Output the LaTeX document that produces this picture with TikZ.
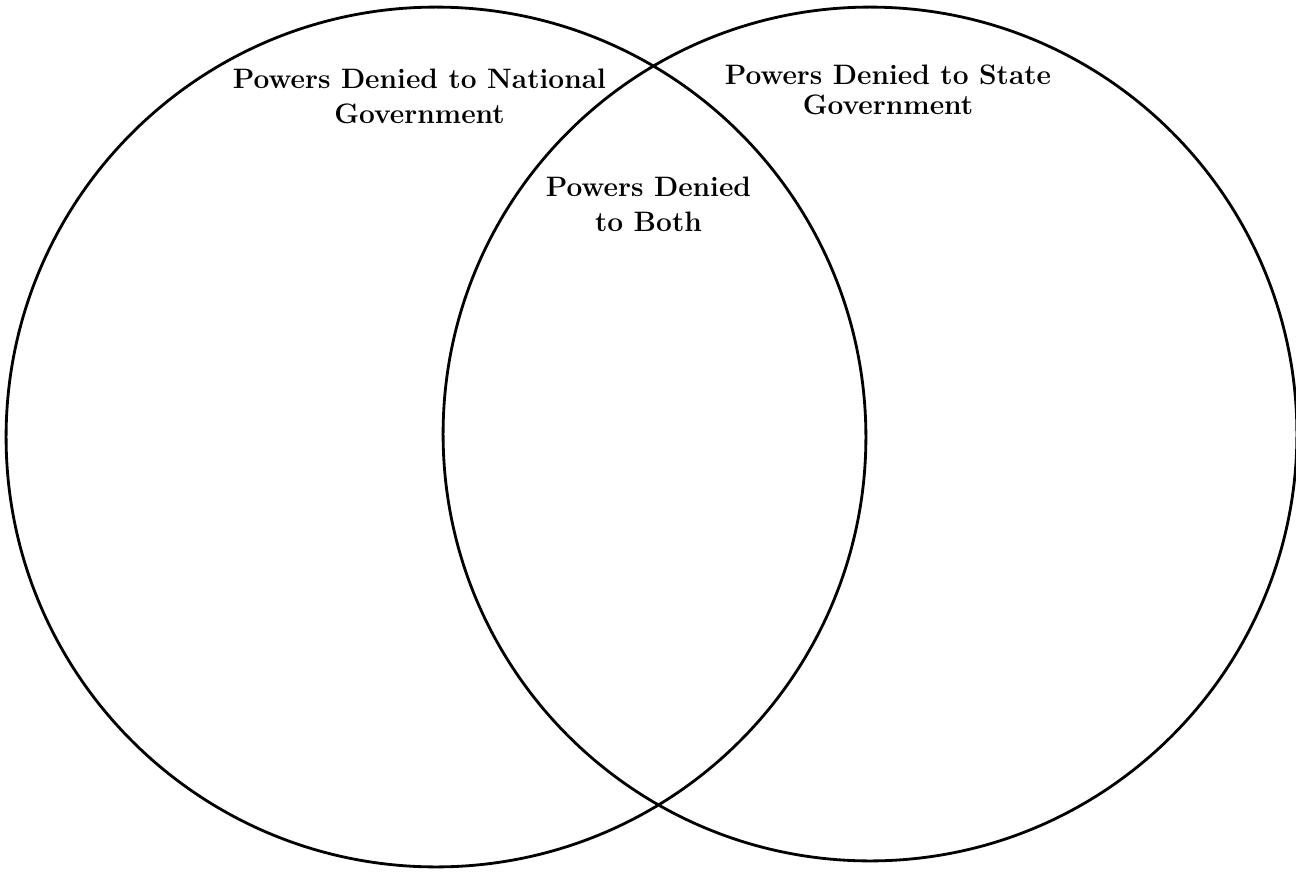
\documentclass[tikz,border=0pt]{standalone}
\usepackage{tikz}
\tikzstyle{venn} = [circle, draw=black, line width=1.6pt, inner sep=0pt]
\tikzstyle{heading} = [align=center, inner sep=0pt, font=\fontsize{16}{19.4}\selectfont\bfseries]

\begin{document}
\begin{tikzpicture}[x=0.02cm, y=-0.02cm]
    \useasboundingbox (0,0) rectangle (1296,873);
    \node(national)[venn, minimum size=17.2cm] at (436,437) {};
    \node(state)[venn, minimum size=17.08cm] at (870,434) {};

    \node(natlabel)[heading] at (419.5,96.4) {Powers Denied to National\\Government};
    \node(statelabel)[heading, font=\fontsize{16}{17}\selectfont\bfseries] at (888,90.2) {Powers Denied to State\\Government};
    \node(bothlabel)[heading, font=\fontsize{16}{19.8}\selectfont\bfseries] at (648.5,204.7) {Powers Denied\\to Both};
  \end{tikzpicture}
\end{document}
